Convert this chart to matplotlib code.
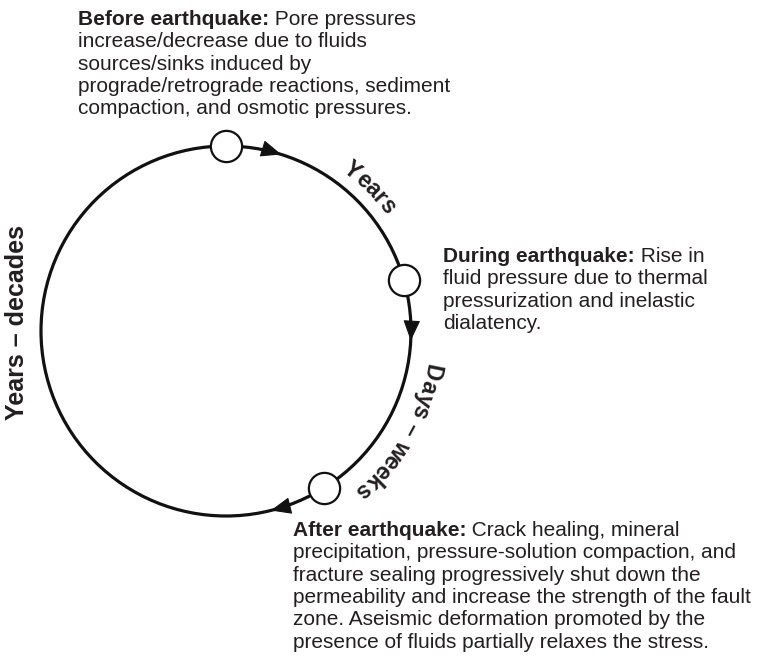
import numpy as np
import matplotlib
matplotlib.use("Agg")
import matplotlib.pyplot as plt
from matplotlib.patches import Circle
from matplotlib.font_manager import FontProperties, findfont, get_font

plt.rcParams["font.family"] = ["Liberation Sans", "DejaVu Sans"]
INK = "#231f20"

# cycle geometry (pixel units), angles in degrees (math convention, clockwise cycle)
center = (226, 331)
radius = 185
stage_angles = [90, 16, -58]          # before / during / after markers
arrow_angles = [72.6, -3, -76]         # arrowhead tips
period_labels = ["Years", "Days – weeks"]
period_angles = [45, -30]
period_radius = [197, 203]

# text blocks: (bold head, rest of first line, following lines, x, first baseline)
blocks = [
    ("Before earthquake:", " Pore pressures",
     ["increase/decrease due to fluids", "sources/sinks induced by",
      "prograde/retrograde reactions, sediment", "compaction, and osmotic pressures."],
     78, 25),
    ("During earthquake:", " Rise in",
     ["fluid pressure due to thermal", "pressurization and inelastic", "dialatency."],
     443, 262),
    ("After earthquake:", " Crack healing, mineral",
     ["precipitation, pressure-solution compaction, and",
      "fracture sealing progressively shut down the",
      "permeability and increase the strength of the fault",
      "zone. Aseismic deformation promoted by the",
      "presence of fluids partially relaxes the stress."],
     293, 536),
]
line_step = 22.3
fs_body = 15
fs_label = 16.5

fig = plt.figure(figsize=(7.62, 6.61), dpi=100)
ax = fig.add_axes([0, 0, 1, 1])
ax.set_xlim(0, 762)
ax.set_ylim(661, 0)
ax.set_aspect("equal")
ax.axis("off")

cx, cy = center


def pos(theta, r=radius):
    t = np.radians(theta)
    return cx + r * np.cos(t), cy - r * np.sin(t)


ax.add_patch(Circle(center, radius, fill=False, lw=2.3, color="#111111", zorder=1))

for a in arrow_angles:
    tx, ty = pos(a)
    t = np.radians(a)
    dx, dy = np.sin(t), np.cos(t)
    ax.annotate("", xy=(tx, ty), xytext=(tx - 18 * dx, ty - 18 * dy),
                arrowprops=dict(arrowstyle="-|>,head_length=13,head_width=5.4",
                                mutation_scale=1, lw=0.8, color="#111111",
                                shrinkA=0, shrinkB=0), zorder=2)

sx, sy = zip(*[pos(a) for a in stage_angles])
ax.plot(sx, sy, "o", ms=22.5, mfc="white", mec="#111111", mew=1.6, zorder=3)


def arc_text(s, theta_mid, r, size):
    prop = FontProperties(family="Liberation Sans", weight="bold", size=size)
    font = get_font(findfont(prop))
    font.set_size(size, 100)
    adv = []
    for ch in s:
        g = font.load_char(ord(ch))
        adv.append(g.linearHoriAdvance / 65536)
    total = sum(adv)
    start = theta_mid + np.degrees(total / 2 / r)
    pos_s = 0
    for ch, w in zip(s, adv):
        th = start - np.degrees((pos_s + w / 2) / r)
        x, y = pos(th, r)
        ax.text(x, y, ch, fontsize=size, fontweight="bold", color=INK,
                rotation=th - 90, rotation_mode="anchor",
                ha="center", va="baseline")
        pos_s += w


for lab, a, r in zip(period_labels, period_angles, period_radius):
    arc_text(lab, a, r, fs_label)

ax.text(17, 322, "Years – decades", fontsize=18, fontweight="bold", color=INK,
        rotation=90, ha="center", va="center")

for head, rest, lines, x0, y0 in blocks:
    b = ax.text(x0, y0, head, fontsize=fs_body, fontweight="bold", color=INK,
                ha="left", va="baseline")
    ax.annotate(rest, xy=(1, 0), xycoords=b, fontsize=fs_body, color=INK,
                ha="left", va="bottom")
    for i, ln in enumerate(lines):
        ax.text(x0, y0 + (i + 1) * line_step, ln, fontsize=fs_body, color=INK,
                ha="left", va="baseline")

fig.savefig("out.png", dpi=100)
